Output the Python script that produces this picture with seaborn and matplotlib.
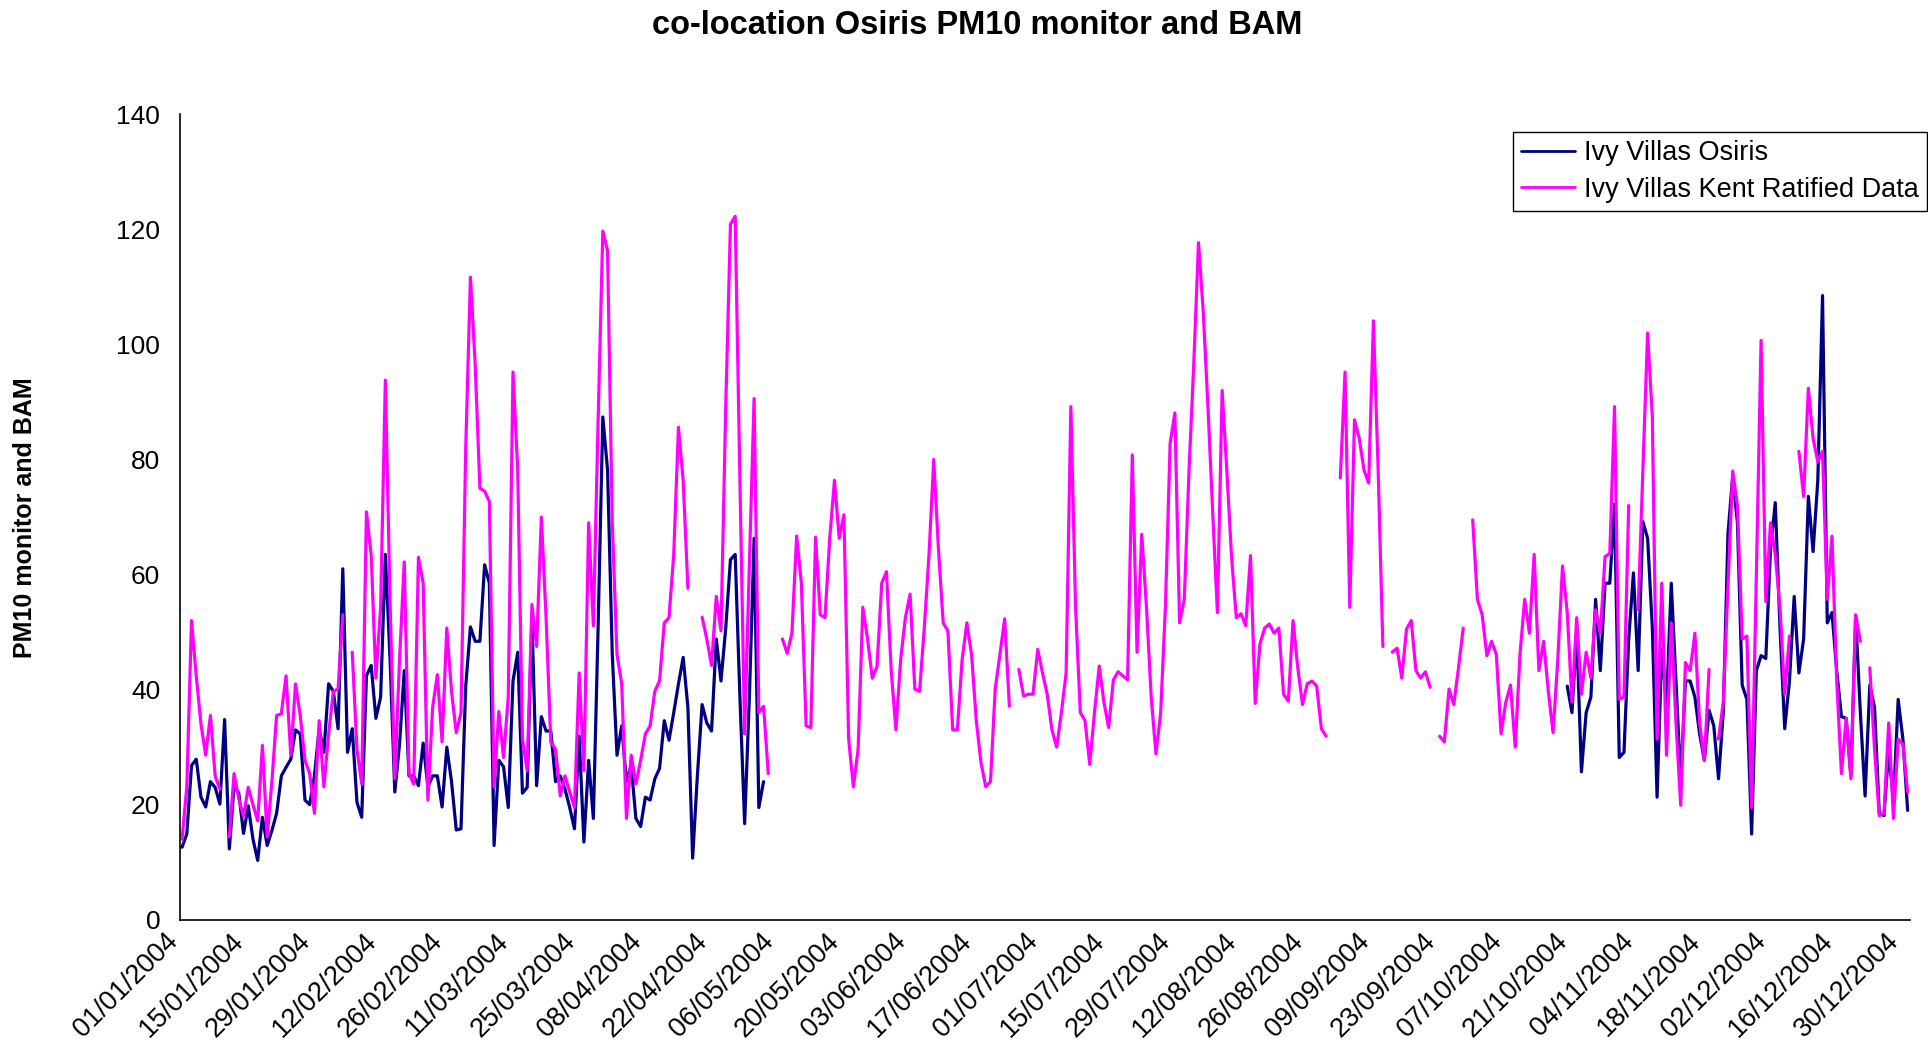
import numpy as np
import pandas as pd
import matplotlib
matplotlib.use("Agg")
import matplotlib.pyplot as plt
from matplotlib.transforms import ScaledTranslation
import seaborn as sns

NA = np.nan

# Daily PM10 (ug/m3), 1 Jan 2004 .. 31 Dec 2004 (366 days), NaN = no data
osiris = [
    12.6, 14.9, 26.8, 27.9, 21.3, 19.6, 24.0, 23.0, 20.1, 34.8,
    12.3, 23.3, 22.0, 15.0, 19.8, 14.0, 10.3, 17.8, 12.9, 15.5,
    18.5, 25.0, 26.5, 27.9, 33.0, 32.3, 20.8, 20.0, 25.0, 33.2,
    29.1, 41.0, 39.7, 33.2, 61.0, 29.1, 33.2, 20.4, 17.8, 42.4,
    44.2, 35.0, 38.7, 63.5, 45.2, 22.2, 30.5, 43.3, 25.0, 25.0,
    23.3, 30.7, 23.1, 25.0, 25.0, 19.6, 30.0, 24.0, 15.6, 15.8,
    40.6, 50.9, 48.4, 48.4, 61.7, 58.5, 12.9, 27.7, 26.6, 19.5,
    41.5, 46.5, 22.0, 23.0, 52.5, 23.3, 35.3, 32.8, 32.8, 24.0,
    25.0, 22.7, 19.5, 15.8, 31.9, 13.5, 27.7, 17.6, 50.7, 87.4,
    78.2, 46.1, 28.6, 33.7, 24.0, 26.8, 17.6, 16.2, 21.3, 20.8,
    24.5, 26.3, 34.6, 31.2, 36.0, 41.0, 45.6, 36.9, 10.7, 25.0,
    37.4, 34.2, 32.8, 48.8, 41.5, 50.7, 62.6, 63.5, 38.7, 16.7,
    38.7, 66.3, 19.5, 24.0,
] + [NA] * 169 + [
    40.6, 36.0, 50.0, 25.7, 36.0, 38.7, 55.7,
    43.3, 58.5, 58.5, 72.2, 28.2, 29.1, 48.8, 60.3, 43.3, 69.2,
    66.3, 50.7, 21.3, 47.0, 37.4, 58.5, 41.5, 24.0, 41.5, 41.5,
    38.7, 32.3, 27.7, 36.4, 33.7, 24.5, 36.0, 67.2, 77.1, 69.0,
    40.8, 38.3, 14.9, 43.3, 45.9, 45.4, 64.4, 72.5, 50.7, 33.2,
    41.5, 56.2, 42.9, 48.8, 73.6, 64.0, 76.4, 108.5, 51.6, 53.4,
    43.3, 35.3, 35.0, 25.0, 52.7, 36.0, 21.5, 40.8, 36.9, 18.5,
    18.1, 29.6, 20.4, 38.3, 31.4, 19.0,
]

kent = [
    14.0, 23.0, 52.0, 42.4, 34.0, 28.6, 35.5, 25.0, 22.7, NA,
    14.4, 25.4, 21.0, 18.0, 23.0, 20.0, 17.2, 30.3, 14.4, 24.0,
    35.5, 35.8, 42.4, 28.6, 41.0, 35.5, 27.7, 25.4, 18.5, 34.6,
    23.1, 32.3, 39.7, 40.1, 53.0, NA, 46.5, 29.6, 23.6, 70.9,
    63.5, 42.0, 54.3, 93.8, 55.3, 24.5, 45.2, 62.2, 25.4, 23.6,
    63.0, 58.5, 20.8, 36.9, 42.6, 30.9, 50.7, 39.7, 32.5, 36.0,
    81.9, 111.7, 96.6, 75.0, 74.5, 72.7, 23.1, 36.2, 28.2, 38.7,
    95.2, 78.2, 31.4, 25.9, 54.8, 47.5, 70.0, 52.5, 30.9, 29.6,
    21.5, 25.0, 22.2, 19.5, 42.9, 25.9, 69.0, 51.1, 86.5, 119.7,
    116.3, 69.0, 46.1, 41.0, 17.6, 28.6, 23.6, 27.7, 32.3, 33.7,
    39.7, 41.5, 51.6, 52.5, 63.5, 85.6, 76.4, 57.6, NA, NA,
    52.6, 48.8, 44.2, 56.2, 50.2, 89.2, 120.9, 122.3, 76.4, 32.3,
    61.7, 90.6, 36.0, 37.1, 25.4, NA, NA, 48.8, 46.3, 49.8,
    66.7, 58.5, 33.7, 33.4, 66.5, 53.0, 52.5, 66.3, 76.4, 66.3,
    70.4, 31.4, 23.1, 29.6, 54.3, 48.8, 42.0, 44.0, 58.5, 60.5,
    43.3, 33.0, 45.2, 52.5, 56.6, 40.1, 39.7, 50.7, 63.5, 80.0,
    64.4, 51.6, 50.2, 33.0, 33.0, 45.2, 51.6, 46.1, 34.6, 27.3,
    23.1, 24.0, 40.1, 46.1, 52.3, 37.1, NA, 43.5, 38.9, 39.2,
    39.2, 47.0, 42.9, 39.2, 33.0, 30.0, 36.0, 42.9, 89.2, 54.3,
    36.0, 34.6, 27.0, 36.0, 44.1, 37.8, 33.4, 41.7, 43.1, 42.4,
    41.7, 80.8, 46.5, 67.0, 54.3, 38.7, 28.8, 36.0, 54.3, 82.8,
    88.1, 51.6, 55.7, 78.2, 96.6, 117.7, 105.8, 89.2, 70.9, 53.4,
    92.0, 78.0, 63.0, 52.5, 53.2, 51.1, 63.3, 37.6, 47.9, 50.7,
    51.4, 49.8, 50.7, 39.2, 38.0, 52.0, 43.8, 37.4, 41.0, 41.5,
    40.6, 33.2, 31.9, NA, NA, 76.8, 95.2, 54.3, 86.9, 83.7,
    78.2, 75.9, 104.1, 78.2, 47.5, NA, 46.5, 47.2, 42.0, 50.5,
    52.0, 43.3, 42.0, 43.1, 40.4, NA, 31.9, 30.9, 40.1, 37.4,
    43.8, 50.7, NA, 69.5, 55.7, 53.0, 45.9, 48.4, 46.1, 32.3,
    37.8, 40.8, 30.0, 46.1, 55.7, 49.8, 63.5, 43.3, 48.4, 39.7,
    32.5, 45.2, 61.5, 53.4, 37.8, 52.5, 39.2, 46.5, 42.0, 53.9,
    49.8, 63.1, 63.7, 89.2, 38.3, 38.7, 72.0, NA, 53.9, 78.2,
    102.0, 87.4, 31.4, 58.5, 28.6, 51.6, 34.2, 19.9, 44.7, 43.3,
    49.8, 34.2, 27.7, 43.5, NA, 31.4, 37.8, 58.0, 78.0, 72.0,
    48.8, 49.3, 19.5, 59.9, 100.7, 55.3, 69.0, 63.5, 54.3, 39.2,
    49.3, NA, 81.4, 73.6, 92.4, 83.7, 79.6, 81.4, 55.7, 66.7,
    41.5, 25.4, 35.0, 24.5, 53.0, 48.4, NA, 43.8, 29.6, 18.1,
    18.5, 34.2, 17.6, 31.4, 30.5, 22.2,
]

series_names = ["Ivy Villas Osiris", "Ivy Villas Kent Ratified Data"]
series_colors = ["#000080", "#FF00FF"]

tick_labels = [
    "01/01/2004", "15/01/2004", "29/01/2004", "12/02/2004", "26/02/2004",
    "11/03/2004", "25/03/2004", "08/04/2004", "22/04/2004", "06/05/2004",
    "20/05/2004", "03/06/2004", "17/06/2004", "01/07/2004", "15/07/2004",
    "29/07/2004", "12/08/2004", "26/08/2004", "09/09/2004", "23/09/2004",
    "07/10/2004", "21/10/2004", "04/11/2004", "18/11/2004", "02/12/2004",
    "16/12/2004", "30/12/2004",
]
y_ticks = [0, 20, 40, 60, 80, 100, 120, 140]

# ---- long-form table; each unbroken run of days gets its own unit id
days = pd.date_range("2004-01-01", "2004-12-31", freq="D")
frames = []
for name, vals in zip(series_names, [osiris, kent]):
    s = pd.Series(vals, dtype=float)
    run_id = s.isna().cumsum()
    frames.append(pd.DataFrame({
        "date": days + pd.Timedelta(hours=12),   # value plotted mid-day
        "pm10": s.values,
        "series": name,
        "run": run_id.values,
    }).dropna(subset=["pm10"]))
long_df = pd.concat(frames, ignore_index=True)

sns.set_theme(style="white")
plt.rcParams["font.family"] = ["Liberation Sans", "DejaVu Sans"]
plt.rcParams["text.color"] = "black"
plt.rcParams["axes.labelcolor"] = "black"

W, H = 1928, 1054
fig = plt.figure(figsize=(W / 100, H / 100), dpi=100)
x0, x1, y_top, y_bot = 179.7, 1910.0, 114.4, 919.7
ax = fig.add_axes([x0 / W, 1 - y_bot / H, (x1 - x0) / W, (y_bot - y_top) / H])

sns.lineplot(
    data=long_df, x="date", y="pm10", hue="series", hue_order=series_names,
    units="run", estimator=None, sort=False,
    palette=dict(zip(series_names, series_colors)),
    linewidth=2.3, ax=ax,
)

ax.set_xlim(pd.Timestamp("2004-01-01"), pd.Timestamp("2005-01-01"))
ax.set_ylim(0, 140)
ax.set_yticks(y_ticks)
ax.set_yticklabels([str(v) for v in y_ticks])
tick_pos = pd.to_datetime(tick_labels, format="%d/%m/%Y")
ax.set_xticks(tick_pos)
ax.set_xticklabels(tick_labels, rotation=45, ha="right", va="top",
                   rotation_mode="anchor")
ax.set_xlabel("")
ax.set_ylabel("")

for side in ["top", "right"]:
    ax.spines[side].set_visible(False)
for side in ["left", "bottom"]:
    ax.spines[side].set_color("black")
    ax.spines[side].set_linewidth(1.2)

ax.tick_params(axis="both", which="major", direction="out", length=6,
               width=1.0, color="black", labelcolor="black")
ax.tick_params(axis="y", pad=8, labelsize=19)
ax.tick_params(axis="x", pad=3, labelsize=19.5)

# nudge the slanted date labels left so each ends just short of its tick
shift = ScaledTranslation(-15 / 100, 4 / 100, fig.dpi_scale_trans)
for lbl in ax.get_xticklabels():
    lbl.set_transform(lbl.get_transform() + shift)

# legend box in the upper right
old = ax.get_legend()
handles = old.legend_handles
labels = [t.get_text() for t in old.get_texts()]
old.remove()
for h in handles:
    h.set_linewidth(2.0)
leg = ax.legend(
    handles, labels, loc="upper left",
    bbox_to_anchor=(1513 / W, 1 - 132 / H), bbox_transform=fig.transFigure,
    frameon=True, fancybox=False, framealpha=1, edgecolor="black",
    fontsize=19.5, handlelength=2.0, handletextpad=0.32, borderpad=0.3,
    labelspacing=0.4, borderaxespad=0, labelcolor="black",
)
leg.get_frame().set_linewidth(1.0)

fig.text(0.507, 1 - 25 / H, "co-location Osiris PM10 monitor and BAM",
         ha="center", va="center", fontsize=23.5, fontweight="bold",
         color="black")
fig.text(25 / W, 1 - 518 / H, "PM10 monitor and BAM", rotation=90,
         ha="center", va="center", fontsize=18, fontweight="bold",
         color="black")

fig.savefig("out.png", dpi=100, facecolor="white")
